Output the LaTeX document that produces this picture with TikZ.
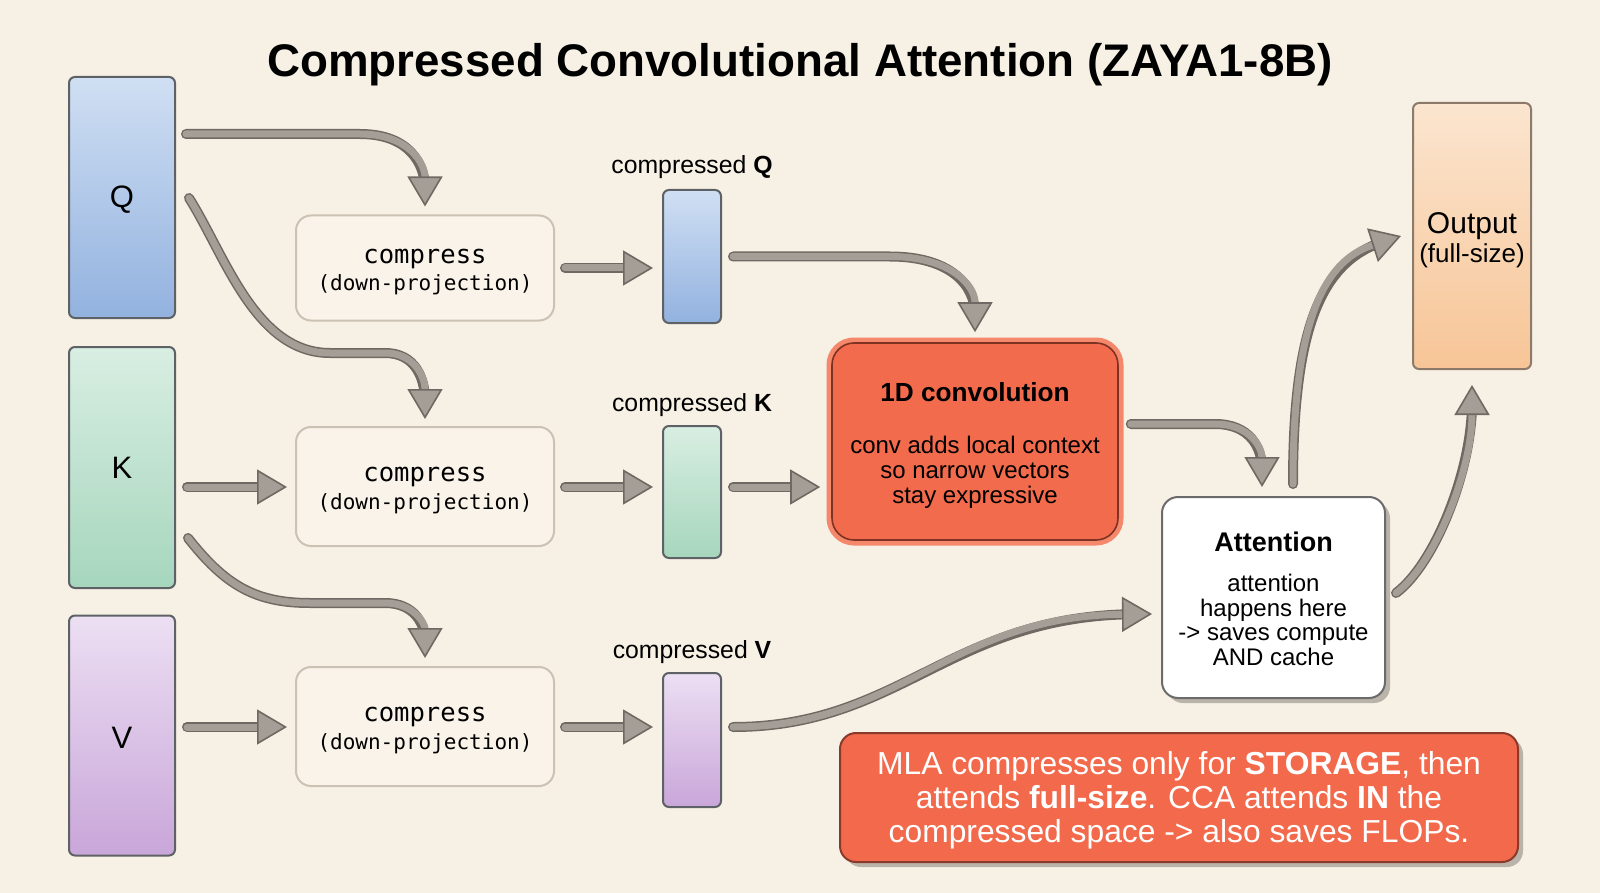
\documentclass[tikz,border=0pt]{standalone}
\usepackage{fontspec}
\setmainfont{Liberation Sans}
\newfontfamily\monofont{DejaVu Sans Mono}
\usetikzlibrary{arrows.meta,shadows,calc}
\definecolor{bg}{HTML}{F7F0E4}
\definecolor{arrowfill}{HTML}{A59E97}
\definecolor{arrowdark}{HTML}{6F6963}
\definecolor{boxline}{HTML}{5E6266}
\definecolor{Qtop}{HTML}{D0DFF3}
\definecolor{Qbot}{HTML}{92B2DF}
\definecolor{Ktop}{HTML}{D8EEE2}
\definecolor{Kbot}{HTML}{A6D6BD}
\definecolor{Vtop}{HTML}{ECDFF3}
\definecolor{Vbot}{HTML}{C9A6D9}
\definecolor{Otop}{HTML}{FBE5CF}
\definecolor{Obot}{HTML}{F7C597}
\definecolor{outline}{HTML}{8C7B6B}
\definecolor{compfill}{HTML}{F9F3E9}
\definecolor{compline}{HTML}{CBC2B4}
\definecolor{convfill}{HTML}{F26B4C}
\definecolor{glow}{HTML}{F5876B}
\definecolor{convline}{HTML}{7D3224}
\definecolor{notefill}{HTML}{F26A4B}
\definecolor{noteline}{HTML}{8A3A2B}
\definecolor{shadowc}{HTML}{BAB3A9}
\definecolor{attline}{HTML}{6B6B6B}
\begin{document}
\begin{tikzpicture}[x=0.5pt,y=-0.5pt,
  vec/.style={draw=boxline, line width=1pt, rounded corners=3pt, inner sep=0pt},
  comp/.style={draw=compline, fill=compfill, line width=1pt, rounded corners=7.5pt,
    minimum width=129pt, inner sep=0pt},
  comptext/.style={align=center, inner sep=0pt,
    font=\monofont\fontsize{10.5}{13.8}\selectfont},
  lbl/.style={font=\fontsize{12.4}{14}\selectfont},
  body/.style={align=center, font=\fontsize{12}{12.4}\selectfont},
  fat/.style={draw=arrowfill, line width=3.5pt, line cap=round,
    -{Triangle[width=17.5pt, length=15pt, color=arrowdark, fill=arrowfill, line width=0.8pt]},
    preaction={draw=arrowdark, line width=5pt, line cap=round, arrows=-, shorten >=9pt}}
]
\useasboundingbox (0,0) rectangle (1600,893);
\fill[bg] (0,0) rectangle (1600,893);

% title
\node (title) at (800,65) {\fontsize{22.85}{27}\selectfont\bfseries Compressed Convolutional Attention (ZAYA1-8B)};

% input vectors
\node[vec, top color=Qtop, bottom color=Qbot, minimum width=53pt, minimum height=120.5pt] (Q) at (122,197.5) {};
\node[vec, top color=Ktop, bottom color=Kbot, minimum width=53pt, minimum height=120.5pt] (K) at (122,467.5) {};
\node[vec, top color=Vtop, bottom color=Vbot, minimum width=53pt, minimum height=120pt] (V) at (122,735.5) {};
\node[font=\fontsize{15.5}{18}\selectfont] (Qt) at (122,200) {Q};
\node[font=\fontsize{15.5}{18}\selectfont] (Kt) at (122,468) {K};
\node[font=\fontsize{15.5}{18}\selectfont] (Vt) at (122,738) {V};

% compress boxes
\node[comp, minimum height=52.5pt] (c1) at (425,268) {};
\node[comp, minimum height=59.5pt] (c2) at (425,486.5) {};
\node[comp, minimum height=59.5pt] (c3) at (425,726.5) {};
\node[comptext] (c1t) at ($(c1)+(0,4)$) {{\fontsize{12.8}{13.8}\selectfont compress}\\(down-projection)};
\node[comptext] (c2t) at ($(c2)+(0,4)$) {{\fontsize{12.8}{13.8}\selectfont compress}\\(down-projection)};
\node[comptext] (c3t) at ($(c3)+(0,4)$) {{\fontsize{12.8}{13.8}\selectfont compress}\\(down-projection)};

% compressed vectors
\node[vec, top color=Qtop, bottom color=Qbot, minimum width=29pt, minimum height=66.5pt] (cQ) at (692,256.5) {};
\node[vec, top color=Ktop, bottom color=Kbot, minimum width=29pt, minimum height=66pt] (cK) at (692,492) {};
\node[vec, top color=Vtop, bottom color=Vbot, minimum width=29pt, minimum height=67pt] (cV) at (692,740) {};
\node[lbl] (lQ) at (692,167) {compressed \textbf{Q}};
\node[lbl] (lK) at (692,405) {compressed \textbf{K}};
\node[lbl] (lV) at (692,652) {compressed \textbf{V}};

% convolution
\node[fill=convfill, draw=convline, line width=0.8pt, rounded corners=11pt,
  preaction={draw=glow, line width=5.5pt},
  minimum width=143pt, minimum height=98.5pt, inner sep=0pt] (conv) at (975,441.5) {};
\node (convT) at (975,392) {\fontsize{13.1}{15}\selectfont\bfseries 1D convolution};
\node[body] (convB) at (975,472) {conv adds local context\\so narrow vectors\\stay expressive};

% attention
\node[fill=white, draw=attline, line width=1pt, rounded corners=8pt,
  drop shadow={shadow xshift=2.5pt, shadow yshift=-2.5pt, fill=shadowc, opacity=1},
  minimum width=111.5pt, minimum height=100.5pt, inner sep=0pt] (att) at (1273.5,597.5) {};
\node (attT) at (1273.5,542) {\fontsize{13.5}{16}\selectfont\bfseries Attention};
\node[body] (attB) at (1273.5,620) {attention\\happens here\\-> saves compute\\AND cache};

% output
\node[vec, draw=outline, top color=Otop, bottom color=Obot, minimum width=59pt, minimum height=133pt] (out) at (1472,236) {};
\node (outT) at (1472,226) {\fontsize{15}{17}\selectfont Output};
\node (outS) at (1472,256) {\fontsize{13}{15}\selectfont (full-size)};

% note
\node[fill=notefill, draw=noteline, line width=1pt, rounded corners=8pt,
  drop shadow={shadow xshift=2.5pt, shadow yshift=-2.5pt, fill=shadowc, opacity=1},
  minimum width=339pt, minimum height=64.5pt, inner sep=0pt] (note) at (1179,797.5) {};
\node[align=center, text=white, font=\fontsize{15.9}{17}\selectfont] (noteT) at (1179,800)
  {MLA compresses only for \textbf{STORAGE}, then\\attends \textbf{full-size}. CCA attends \textbf{IN} the\\compressed space -> also saves FLOPs.};

% arrows
\draw[fat] ($(Q.east)+(10,-63.5)$) -- (360,134) .. controls (410,134) and (425,165) .. ($(c1.north)+(0,-8)$);
\draw[fat] ($(Q.east)+(13,0.5)$) .. controls (225,255) and (255,353) .. (330,353) -- (385,353) .. controls (415,353) and (425,378) .. ($(c2.north)+(0,-7)$);
\draw[fat] ($(K.east)+(11,19.5)$) -- ($(c2.west)+(-8,0.5)$);
\draw[fat] ($(K.east)+(12,70.5)$) .. controls (225,585) and (255,603) .. (310,603) -- (385,603) .. controls (415,603) and (425,625) .. ($(c3.north)+(0,-8)$);
\draw[fat] ($(V.east)+(11,-8.5)$) -- ($(c3.west)+(-8,0.5)$);
\draw[fat] ($(c1.east)+(10,0)$) -- ($(cQ.west)+(-9,11.5)$);
\draw[fat] ($(c2.east)+(10,0.5)$) -- ($(cK.west)+(-9,-5)$);
\draw[fat] ($(c3.east)+(10,0.5)$) -- ($(cV.west)+(-9,-13)$);
\draw[fat] ($(cQ.east)+(11,0)$) -- (890,256.5) .. controls (950,256.5) and (975,285) .. ($(conv.north)+(0,-10)$);
\draw[fat] ($(cK.east)+(11,-5)$) -- ($(conv.west)+(-11,45.5)$);
\draw[fat] ($(cV.east)+(11,-13)$) .. controls (900,727) and (950,616) .. ($(att.west)+(-9,16.5)$);
\draw[fat] ($(conv.east)+(12,-17.5)$) -- (1215,424) .. controls (1250,424) and (1262,448) .. ($(att.north)+(-11.5,-9)$);
\draw[fat] ($(att.north)+(19.5,-12)$) .. controls (1293,330) and (1320,262) .. ($(out.west)+(-11,0)$);
\draw[fat] ($(att.east)+(10,-4.5)$) .. controls (1435,564) and (1472,470) .. ($(out.south)+(0,15)$);
\end{tikzpicture}
\end{document}
